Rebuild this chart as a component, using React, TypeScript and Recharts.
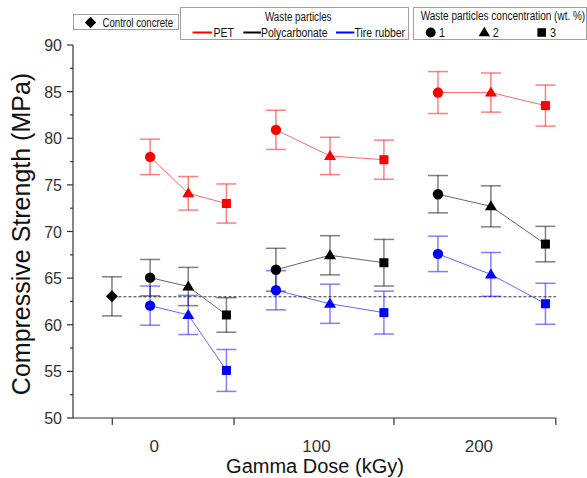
import { ComposedChart, Scatter, XAxis, YAxis, ErrorBar, ReferenceLine, Label } from "recharts";

// gamma dose groups (kGy) and where each concentration sits along the dose axis
const doseGroups = [0, 100, 200];
const groupX = [
  [-2.5, 21, 44.5],
  [75, 108.3, 141.5],
  [174.8, 207.4, 241],
];
const concentrations = ["1", "2", "3"];

// compressive strength (MPa), rows = dose group, columns = concentration
const petMean = [[78.0, 74.1, 73.0], [80.9, 78.1, 77.7], [84.9, 84.9, 83.5]];
const petErr = [[1.9, 1.8, 2.1], [2.1, 2.0, 2.1], [2.25, 2.1, 2.2]];
const pcMean = [[65.05, 64.1, 61.05], [65.9, 67.45, 66.65], [74.0, 72.7, 68.65]];
const pcErr = [[1.95, 2.05, 1.85], [2.3, 2.1, 2.5], [2.0, 2.2, 1.9]];
const trMean = [[62.05, 61.05, 55.1], [63.7, 62.25, 61.3], [67.6, 65.4, 62.25]];
const trErr = [[2.1, 2.1, 2.25], [2.1, 2.1, 2.3], [1.9, 2.35, 2.2]];

const controlX = -26;
const controlMean = 63.05;
const controlErr = 2.1;

const yTicks = [50, 52.5, 55, 57.5, 60, 62.5, 65, 67.5, 70, 72.5, 75, 77.5, 80, 82.5, 85, 87.5, 90];
const xBoundaryTicks = [-25.8, 49.2, 147.7, 247.4];

const FONT = "'Liberation Sans', Arial, sans-serif";
const AXIS = "#333";

const MATERIALS = [
  { name: "PET", color: "#ff0000", mean: petMean, err: petErr },
  { name: "Polycarbonate", color: "#000000", mean: pcMean, err: pcErr },
  { name: "Tire rubber", color: "#0000ff", mean: trMean, err: trErr },
];
const SHAPES = ["circle", "triangle", "square"];

function Marker({ cx, cy, shape, color, s = 1 }: any) {
  if (cx == null || cy == null) return null;
  if (shape === "circle") return <circle cx={cx} cy={cy} r={5.2 * s} fill={color} />;
  if (shape === "triangle") {
    const h = 10 * s;
    const w = 12 * s;
    return <polygon points={`${cx},${cy - h * 0.6} ${cx - w / 2},${cy + h * 0.4} ${cx + w / 2},${cy + h * 0.4}`} fill={color} />;
  }
  if (shape === "square") return <rect x={cx - 4.5 * s} y={cy - 4.5 * s} width={9 * s} height={9 * s} fill={color} />;
  const d = 6 * s;
  return <polygon points={`${cx},${cy - d} ${cx + d},${cy} ${cx},${cy + d} ${cx - d},${cy}`} fill={color} />;
}

const YTick = ({ x, y, payload }: any) => {
  const v = payload.value;
  const major = v % 5 === 0;
  return (
    <g>
      <line x1={x - (major ? 6 : 3)} x2={x} y1={y} y2={y} stroke={AXIS} strokeWidth={1.2} />
      {major && (
        <text x={x - 11} y={y} dy={6} textAnchor="end" fontSize={16} fill={AXIS} fontFamily={FONT}>
          {v}
        </text>
      )}
    </g>
  );
};

const XTick = ({ x, y, payload }: any) => {
  const v = payload.value;
  if (doseGroups.includes(v)) {
    return (
      <text x={x} y={y} dy={34} textAnchor="middle" fontSize={17} fill={AXIS} fontFamily={FONT}>
        {v}
      </text>
    );
  }
  return <line x1={x} x2={x} y1={y} y2={y + 7} stroke={AXIS} strokeWidth={1.2} />;
};

const YTitle = () => (
  <text transform="translate(30,234) rotate(-90)" textAnchor="middle" fontSize={25} fill="#111" fontFamily={FONT}>
    Compressive Strength (MPa)
  </text>
);

const XTitle = () => (
  <text x={315} y={473} textAnchor="middle" fontSize={20} fill="#111" fontFamily={FONT}>
    Gamma Dose (kGy)
  </text>
);

// legend text, squeezed to the narrow face used in the original
function LT({ x, y, w, children, anchor = "start" }: any) {
  return (
    <text x={x} y={y} textLength={w} lengthAdjust="spacingAndGlyphs" textAnchor={anchor} fontSize={12} fill="#111" fontFamily={FONT}>
      {children}
    </text>
  );
}

function Legends() {
  const box = { fill: "#fff", stroke: "#a0a0a0", strokeWidth: 1 };
  return (
    <svg width={587} height={50} style={{ position: "absolute", left: 0, top: 0 }}>
      <rect x={73.5} y={14.5} width={105} height={15} {...box} />
      <Marker cx={90.5} cy={22.5} shape="diamond" color="#000" s={0.95} />
      <LT x={102.5} y={26.5} w={70.5}>Control concrete</LT>

      <rect x={180.5} y={7.5} width={228} height={32} {...box} />
      <LT x={265} y={20.5} w={66.5}>Waste particles</LT>
      <line x1={192.5} x2={212} y1={32.5} y2={32.5} stroke="#ff0000" strokeWidth={2} />
      <LT x={213.5} y={36.5} w={20.5}>PET</LT>
      <line x1={243.3} x2={261} y1={32.5} y2={32.5} stroke="#000" strokeWidth={2} />
      <LT x={261} y={36.5} w={66.5}>Polycarbonate</LT>
      <line x1={336} x2={354.3} y1={32.5} y2={32.5} stroke="#0000ff" strokeWidth={2} />
      <LT x={354.5} y={36.5} w={50.5}>Tire rubber</LT>

      <rect x={413.5} y={7.5} width={173} height={32} {...box} />
      <LT x={420.7} y={19.5} w={164.5}>Waste particles concentration (wt. %)</LT>
      <Marker cx={430.7} cy={32.5} shape="circle" color="#000" s={0.95} />
      <LT x={439} y={36.5} w={6}>1</LT>
      <Marker cx={484.3} cy={32.5} shape="triangle" color="#000" s={0.95} />
      <LT x={492.7} y={36.5} w={6}>2</LT>
      <Marker cx={541.7} cy={32.5} shape="square" color="#000" s={0.95} />
      <LT x={550} y={36.5} w={6}>3</LT>
    </svg>
  );
}

export default function App() {
  const xTicks = [...xBoundaryTicks, ...doseGroups].sort((a, b) => a - b);
  const controlData = [{ x: controlX, y: controlMean, err: controlErr, shape: "diamond" }];

  return (
    <div style={{ position: "absolute", left: 0, top: 0, width: 587, height: 478, background: "#fff", fontFamily: FONT }}>
      <ComposedChart width={587} height={478} margin={{ top: 45, right: 31, left: 0, bottom: 0 }}>
        <XAxis
          type="number"
          dataKey="x"
          domain={[-50, 247.5]}
          allowDataOverflow
          ticks={xTicks}
          interval={0}
          tick={<XTick />}
          tickLine={false}
          tickSize={0}
          tickMargin={0}
          height={60}
          axisLine={{ stroke: AXIS, strokeWidth: 1.2 }}
        >
          <Label content={<XTitle />} />
        </XAxis>
        <YAxis
          type="number"
          dataKey="y"
          domain={[50, 90]}
          ticks={yTicks}
          interval={0}
          tick={<YTick />}
          tickLine={false}
          tickSize={0}
          tickMargin={0}
          width={73}
          axisLine={{ stroke: AXIS, strokeWidth: 1.2 }}
        >
          <Label content={<YTitle />} />
        </YAxis>
        <ReferenceLine
          segment={[{ x: -22, y: 63 }, { x: 247.5, y: 63 }]}
          stroke="#333"
          strokeDasharray="3 2"
          strokeWidth={1}
          ifOverflow="visible"
        />
        {MATERIALS.flatMap((m) =>
          doseGroups.map((dose, gi) => {
            const data = concentrations.map((c, ci) => ({
              x: groupX[gi][ci],
              y: m.mean[gi][ci],
              err: m.err[gi][ci],
              shape: SHAPES[ci],
              conc: c,
            }));
            return (
              <Scatter
                key={`${m.name}-${dose}`}
                data={data}
                isAnimationActive={false}
                line={{ stroke: m.color, strokeWidth: 1, strokeOpacity: 0.6 }}
                lineType="joint"
                shape={(p: any) => <Marker cx={p.cx} cy={p.cy} shape={p.payload.shape} color={m.color} />}
              >
                <ErrorBar dataKey="err" direction="y" width={10} stroke={m.color} strokeOpacity={0.5} strokeWidth={1.5} />
              </Scatter>
            );
          })
        )}
        <Scatter
          data={controlData}
          isAnimationActive={false}
          shape={(p: any) => <Marker cx={p.cx} cy={p.cy} shape="diamond" color="#000" />}
        >
          <ErrorBar dataKey="err" direction="y" width={10} stroke="#000" strokeOpacity={0.5} strokeWidth={1.5} />
        </Scatter>
      </ComposedChart>
      <Legends />
    </div>
  );
}
